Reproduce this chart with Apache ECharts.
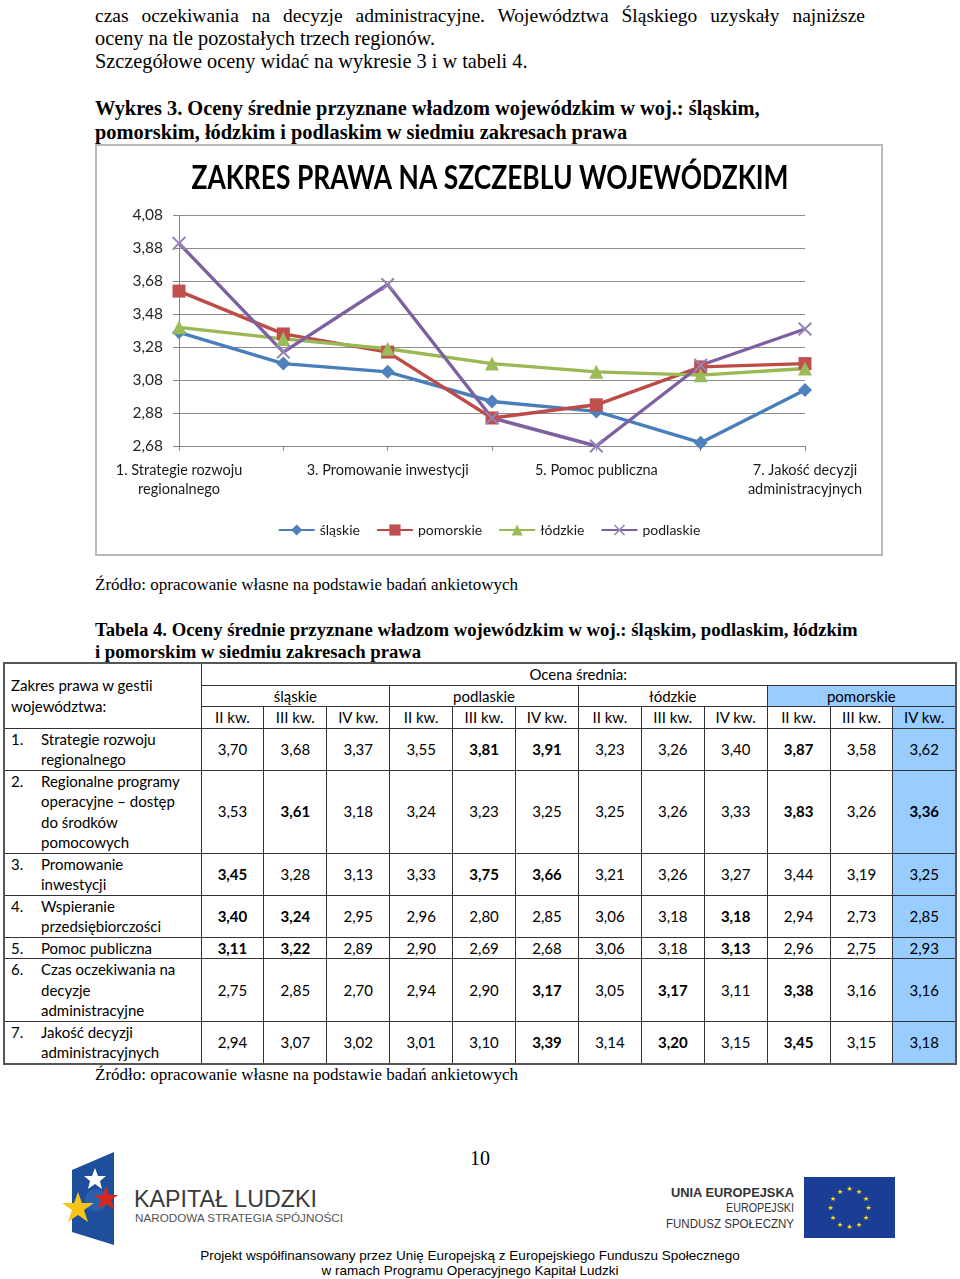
<!DOCTYPE html>
<html lang="pl">
<head>
<meta charset="utf-8">
<script src="https://cdn.jsdelivr.net/npm/echarts@6/dist/echarts.min.js"></script>
<style>
  html, body { margin:0; padding:0; background:#fff; }
  body { width:960px; height:1279px; position:relative; overflow:hidden; font-family:"Liberation Serif", serif; color:#000; }
  .abs { position:absolute; }
  .p { font-size:20.3px; line-height:23px; left:95px; width:770px; }
  .just { text-align:justify; text-align-last:justify; }
  .b { font-weight:bold; }
  .src { font-size:17px; line-height:22px; left:95px; white-space:nowrap; }
  #chart { left:95px; top:144px; width:788px; height:412px; }
  #frame { left:95px; top:144px; width:788px; height:412px; box-sizing:border-box; border:2px solid #b9b9b9; pointer-events:none; }
  table { position:absolute; left:3px; top:662px; width:954px; table-layout:fixed; border-collapse:collapse;
          font-family:"Lato", sans-serif; font-size:15px; line-height:20.5px; border:2px solid #555; }
  td { border:1px solid #333; padding:0; text-align:center; vertical-align:middle; white-space:nowrap; }
  td.lab { text-align:left; padding-left:6px; white-space:normal; }
  td.blue { background:#99CCFF; }
  td.bold { font-weight:bold; }
  .row-lab { display:flex; }
  .row-lab .n { width:30px; flex:none; }
  .row-lab .t { white-space:pre-line; }
  .foot { font-family:"Liberation Sans", sans-serif; font-size:13.5px; line-height:16px; left:0; width:940px; text-align:center; }
</style>
</head>
<body>

<div class="abs p just" style="top:3.5px; font-size:19.5px">czas oczekiwania na decyzje administracyjne. Województwa Śląskiego uzyskały najniższe</div>
<div class="abs p" style="top:26.5px">oceny na tle pozostałych trzech regionów.</div>
<div class="abs p" style="top:49.5px">Szczegółowe oceny widać na wykresie 3 i w tabeli 4.</div>

<div class="abs p b" style="top:96px; line-height:24px; font-size:20.4px; width:800px">Wykres 3. Oceny średnie przyznane władzom wojewódzkim w woj.: śląskim,<br>pomorskim, łódzkim i podlaskim w siedmiu zakresach prawa</div>

<div id="chart" class="abs"></div>
<div id="frame" class="abs"></div>

<div class="abs src" style="top:574px">Źródło: opracowanie własne na podstawie badań ankietowych</div>

<div class="abs p b" style="top:619px; line-height:22px; width:800px; font-size:18.7px">Tabela 4. Oceny średnie przyznane władzom wojewódzkim w woj.: śląskim, podlaskim, łódzkim<br>i pomorskim w siedmiu zakresach prawa</div>

<table id="tbl"></table>

<div class="abs src" style="top:1064px">Źródło: opracowanie własne na podstawie badań ankietowych</div>

<div class="abs" style="left:460px; top:1146px; width:40px; text-align:center; font-size:20px; line-height:24px;">10</div>

<svg class="abs" style="left:0; top:1140px" width="960" height="110" viewBox="0 1140 960 110">
  <polygon points="72,1170 114,1152 114,1245 72,1232" fill="#1d4f9c"/>
  <circle cx="96" cy="1200" r="11" fill="#2a5fae"/>
  <polygon points="95,1168 98,1176 106,1176 100,1181 102,1189 95,1184 88,1189 90,1181 84,1176 92,1176" fill="#ffffff"/>
  <polygon points="106,1186 109,1195 118,1195 111,1200 114,1209 106,1204 98,1209 101,1200 94,1195 103,1195" fill="#d9261c"/>
  <polygon points="78,1192 82,1203 94,1203 84,1210 88,1222 78,1215 68,1222 72,1210 62,1203 74,1203" fill="#f5c518"/>
  <text x="134" y="1207" textLength="183" lengthAdjust="spacingAndGlyphs" font-family="Liberation Sans, sans-serif" font-size="23" fill="#3a3a3a">KAPITAŁ LUDZKI</text>
  <text x="135" y="1222" textLength="208" lengthAdjust="spacingAndGlyphs" font-family="Liberation Sans, sans-serif" font-size="11.5" fill="#555">NARODOWA STRATEGIA SPÓJNOŚCI</text>
  <text x="794" y="1197" text-anchor="end" textLength="123" lengthAdjust="spacingAndGlyphs" font-family="Liberation Sans, sans-serif" font-weight="bold" font-size="12" fill="#333">UNIA EUROPEJSKA</text>
  <text x="794" y="1212" text-anchor="end" textLength="68" lengthAdjust="spacingAndGlyphs" font-family="Liberation Sans, sans-serif" font-size="12" fill="#333">EUROPEJSKI</text>
  <text x="794" y="1228" text-anchor="end" textLength="128" lengthAdjust="spacingAndGlyphs" font-family="Liberation Sans, sans-serif" font-size="12" fill="#333">FUNDUSZ SPOŁECZNY</text>
  <rect x="804" y="1177" width="91" height="61" fill="#1a3e96"/>
  <g id="eustars" fill="#ffdd00" font-family="DejaVu Sans, sans-serif" font-size="7" text-anchor="middle"></g>
</svg>

<div class="abs foot" style="top:1248px">Projekt współfinansowany przez Unię Europejską z Europejskiego Funduszu Społecznego</div>
<div class="abs foot" style="top:1263px">w ramach Programu Operacyjnego Kapitał Ludzki</div>

<script>
// ---- DATA ----
const chartTitle = 'ZAKRES PRAWA NA SZCZEBLU WOJEWÓDZKIM';
const chartCategories = [
  "1. Strategie rozwoju\nregionalnego",
  "2. Regionalne programy operacyjne – dostęp do środków pomocowych",
  "3. Promowanie inwestycji",
  "4. Wspieranie przedsiębiorczości",
  "5. Pomoc publiczna",
  "6. Czas oczekiwania na decyzje administracyjne",
  "7. Jakość decyzji\nadministracyjnych"
];
const tableRanges = [
  "Strategie rozwoju\nregionalnego",
  "Regionalne programy\noperacyjne – dostęp\ndo środków\npomocowych",
  "Promowanie\ninwestycji",
  "Wspieranie\nprzedsiębiorczości",
  "Pomoc publiczna",
  "Czas oczekiwania na\ndecyzje\nadministracyjne",
  "Jakość decyzji\nadministracyjnych"
];
const voivodeships = ["śląskie", "podlaskie", "łódzkie", "pomorskie"];
const quarters = ["II kw.", "III kw.", "IV kw."];

const slaskie_II    = [3.70, 3.53, 3.45, 3.40, 3.11, 2.75, 2.94];
const slaskie_III   = [3.68, 3.61, 3.28, 3.24, 3.22, 2.85, 3.07];
const slaskie_IV    = [3.37, 3.18, 3.13, 2.95, 2.89, 2.70, 3.02];
const podlaskie_II  = [3.55, 3.24, 3.33, 2.96, 2.90, 2.94, 3.01];
const podlaskie_III = [3.81, 3.23, 3.75, 2.80, 2.69, 2.90, 3.10];
const podlaskie_IV  = [3.91, 3.25, 3.66, 2.85, 2.68, 3.17, 3.39];
const lodzkie_II    = [3.23, 3.25, 3.21, 3.06, 3.06, 3.05, 3.14];
const lodzkie_III   = [3.26, 3.26, 3.26, 3.18, 3.18, 3.17, 3.20];
const lodzkie_IV    = [3.40, 3.33, 3.27, 3.18, 3.13, 3.11, 3.15];
const pomorskie_II  = [3.87, 3.83, 3.44, 2.94, 2.96, 3.38, 3.45];
const pomorskie_III = [3.58, 3.26, 3.19, 2.73, 2.75, 3.16, 3.15];
const pomorskie_IV  = [3.62, 3.36, 3.25, 2.85, 2.93, 3.16, 3.18];

// bold cells in the table: [row, column 0..11]
const boldCells = [[0,4],[0,5],[0,9],[1,1],[1,9],[1,11],[2,0],[2,4],[2,5],
                   [3,0],[3,1],[3,8],[4,0],[4,1],[4,8],[5,5],[5,7],[5,9],[6,5],[6,7],[6,9]];

const yMin = 2.68, yMax = 4.08, yStep = 0.2;

// ---- TABLE ----
const columns = [slaskie_II, slaskie_III, slaskie_IV, podlaskie_II, podlaskie_III, podlaskie_IV,
                 lodzkie_II, lodzkie_III, lodzkie_IV, pomorskie_II, pomorskie_III, pomorskie_IV];
const fmt = v => v.toFixed(2).replace('.', ',');
const isBold = (r, c) => boldCells.some(b => b[0] === r && b[1] === c);
let h = '<colgroup><col style="width:197px">' + '<col>'.repeat(12) + '</colgroup>';
h += '<tr style="height:22px"><td class="lab" rowspan="3">Zakres prawa w gestii<br>województwa:</td><td colspan="12">Ocena średnia:</td></tr>';
h += '<tr>' + voivodeships.map((v, i) => `<td colspan="3"${i === 3 ? ' class="blue"' : ''}>${v}</td>`).join('') + '</tr>';
h += '<tr>' + columns.map((c, i) => `<td${i === 11 ? ' class="blue"' : ''}>${quarters[i % 3]}</td>`).join('') + '</tr>';
tableRanges.forEach((name, r) => {
  h += `<tr><td class="lab"><div class="row-lab"><span class="n">${r + 1}.</span><span class="t">${name}</span></div></td>`;
  columns.forEach((col, c) => {
    const cls = [];
    if (c === 11) cls.push('blue');
    if (isBold(r, c)) cls.push('bold');
    h += `<td${cls.length ? ' class="' + cls.join(' ') + '"' : ''}>${fmt(col[r])}</td>`;
  });
  h += '</tr>';
});
document.getElementById('tbl').innerHTML = h;

// ---- EU stars ----
(function () {
  const g = document.getElementById('eustars');
  const ns = 'http://www.w3.org/2000/svg';
  for (let i = 0; i < 12; i++) {
    const a = i * Math.PI / 6;
    const t = document.createElementNS(ns, 'text');
    t.setAttribute('x', (849.5 + 19 * Math.sin(a)).toFixed(1));
    t.setAttribute('y', (1207.5 - 19 * Math.cos(a) + 2.5).toFixed(1));
    t.textContent = '★';
    g.appendChild(t);
  }
})();

// ---- CHART ----
const chart = echarts.init(document.getElementById('chart'), null, { renderer: 'canvas' });
const xPath = 'path://M0,1L1,0L5,4L9,0L10,1L6,5L10,9L9,10L5,6L1,10L0,9L4,5Z';
const font = 'Lato';
const mk = (name, data, line, marker, symbol, size) => ({
  name, type: 'line', data, symbol, symbolSize: size, symbolKeepAspect: true,
  lineStyle: { color: line, width: 3.4 },
  itemStyle: { color: marker },
  emphasis: { disabled: true }
});
chart.setOption({
  animation: false,
  graphic: [{
    type: 'text', x: 395, y: 34, scaleX: 0.8, scaleY: 1,
    style: { text: chartTitle, fontFamily: font, fontWeight: 'bold', fontSize: 33, fill: '#000',
             align: 'center', verticalAlign: 'middle' }
  }],
  grid: { left: 84, right: 78, top: 71.3, bottom: 110 },
  xAxis: {
    type: 'category', data: chartCategories, boundaryGap: false,
    axisLine: { lineStyle: { color: '#868686', width: 1 } },
    axisTick: { show: true, interval: 0, length: 5, lineStyle: { color: '#868686' } },
    axisLabel: { interval: 1, margin: 15, fontFamily: font, fontSize: 14.5, lineHeight: 19, color: '#1a1a1a' }
  },
  yAxis: {
    type: 'value', min: yMin, max: yMax, interval: yStep,
    axisLine: { show: true, lineStyle: { color: '#868686' } },
    axisTick: { show: true, length: 6, lineStyle: { color: '#868686' } },
    splitLine: { lineStyle: { color: '#8c8c8c', width: 1 } },
    axisLabel: { margin: 16, fontFamily: font, fontSize: 15.5, color: '#262626', formatter: v => fmt(v) }
  },
  legend: {
    top: 374, left: 'center', itemWidth: 36, itemHeight: 14, itemGap: 16,
    textStyle: { fontFamily: font, fontSize: 14, color: '#1a1a1a' },
    data: ['śląskie', 'pomorskie', 'łódzkie', 'podlaskie']
  },
  series: [
    mk('śląskie', slaskie_IV, '#4A7EBB', '#4F81BD', 'diamond', 14),
    mk('pomorskie', pomorskie_IV, '#BE4B48', '#C0504D', 'rect', 13),
    mk('łódzkie', lodzkie_IV, '#98B954', '#9BBB59', 'triangle', 14),
    mk('podlaskie', podlaskie_IV, '#7D60A0', '#9583b8', xPath, 14)
  ]
});
</script>
</body>
</html>
